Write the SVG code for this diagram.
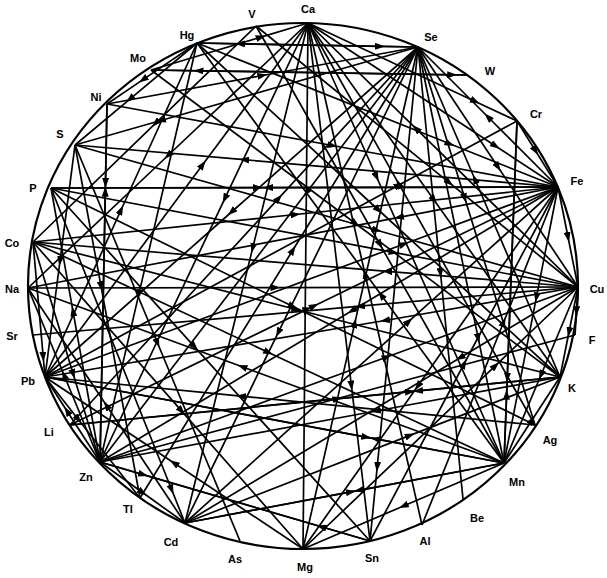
<svg xmlns="http://www.w3.org/2000/svg" width="607" height="578" viewBox="0 0 607 578">
<defs>
<marker id="a" viewBox="0 0 10 7" refX="5" refY="3.5" markerWidth="10" markerHeight="7" markerUnits="userSpaceOnUse" orient="auto"><path d="M0,0 L10,3.5 L0,7 z" fill="#000"/></marker>
<style>
.e path{fill:none;stroke:#000;stroke-width:1.7;marker-mid:url(#a)}
.n text{font-family:"Liberation Sans",Arial,sans-serif;font-size:11px;font-weight:bold;fill:#000;text-anchor:middle}
</style>
</defs>
<rect width="607" height="578" fill="#fff"/>
<ellipse cx="303" cy="286" rx="275" ry="263" fill="none" stroke="#000" stroke-width="2.2"/>
<g id="connectors" class="e">
<path d="M308 23 L305.2 312.3 L303 549"/>
<path d="M308 23 L224.8 198.6 L100 462"/>
<path d="M45 377 L202.8 164.6 L308 23"/>
<path d="M308 23 L252.7 248 L185 523"/>
<path d="M308 23 L351.4 385.6 L370 541"/>
<path d="M422 525 L365 274 L308 23"/>
<path d="M308 23 L376.6 177 L504 463"/>
<path d="M535 425 L398.8 183.8 L308 23"/>
<path d="M308 23 L434 200 L560 377"/>
<path d="M578 287 L416 128.6 L308 23"/>
<path d="M308 23 L495.5 146 L558 187"/>
<path d="M151 70 L260.9 37.1 L308 23"/>
<path d="M308 23 L168 155.5 L28 288"/>
<path d="M197 43 L380 46.3 L418 47"/>
<path d="M418 47 L240 43.8 L197 43"/>
<path d="M418 47 L160.8 120.5 L75 145"/>
<path d="M107 104 L262.5 75.5 L418 47"/>
<path d="M418 47 L231.5 212 L45 377"/>
<path d="M70 425 L278.8 198.2 L418 47"/>
<path d="M418 47 L306.7 192.3 L100 462"/>
<path d="M140 498 L292.9 250 L418 47"/>
<path d="M418 47 L278.2 332.6 L185 523"/>
<path d="M303 549 L354.8 323.1 L418 47"/>
<path d="M418 47 L440.5 273 L463 499"/>
<path d="M418 47 L478.2 338.2 L504 463"/>
<path d="M560 377 L474.8 179 L418 47"/>
<path d="M418 47 L498 167 L578 287"/>
<path d="M558 187 L488 117 L418 47"/>
<path d="M418 47 L464.8 198.2 L535 425"/>
<path d="M418 47 L377.2 466.9 L370 541"/>
<path d="M51 188 L258 187.6 L558 187"/>
<path d="M558 187 L268 187.6 L51 188"/>
<path d="M33 242 L295.5 214.5 L558 187"/>
<path d="M558 187 L399 217.3 L28 288"/>
<path d="M45 377 L404.1 244 L558 187"/>
<path d="M558 187 L351.9 310.8 L100 462"/>
<path d="M185 523 L408.8 321.4 L558 187"/>
<path d="M558 187 L417.8 386.1 L303 549"/>
<path d="M370 541 L464 364 L558 187"/>
<path d="M558 187 L536.4 297.4 L504 463"/>
<path d="M558 187 L568 237 L578 287"/>
<path d="M517 121 L535.5 150.7 L558 187"/>
<path d="M558 187 L244.1 159.7 L75 145"/>
<path d="M197 43 L449.7 143.8 L558 187"/>
<path d="M151 70 L355.5 223.5 L560 377"/>
<path d="M28 288 L275.5 287.6 L578 287"/>
<path d="M578 287 L387.3 271.3 L33 242"/>
<path d="M51 188 L393.6 252.4 L578 287"/>
<path d="M578 287 L385 320.5 L45 377"/>
<path d="M100 462 L386.8 357 L578 287"/>
<path d="M578 287 L460.1 357.8 L185 523"/>
<path d="M303 549 L495.5 365.6 L578 287"/>
<path d="M578 287 L541 375 L504 463"/>
<path d="M578 287 L576.5 311 L575 335"/>
<path d="M578 287 L569 332 L560 377"/>
<path d="M256 26 L449.2 182.6 L578 287"/>
<path d="M578 287 L360 306.2 L33 335"/>
<path d="M75 145 L376.8 230.2 L578 287"/>
<path d="M185 523 L350.9 491.8 L504 463"/>
<path d="M504 463 L358.9 490.3 L185 523"/>
<path d="M504 463 L403.5 506 L303 549"/>
<path d="M45 377 L366.3 437.2 L504 463"/>
<path d="M504 463 L375.5 438.9 L45 377"/>
<path d="M517 121 L507.3 377.5 L504 463"/>
<path d="M504 463 L506.6 394.6 L517 121"/>
<path d="M504 463 L381.2 295 L197 43"/>
<path d="M256 26 L380 244.5 L504 463"/>
<path d="M504 463 L242.2 366.8 L28 288"/>
<path d="M504 463 L532 420 L560 377"/>
<path d="M107 104 L105.5 182.8 L100 462"/>
<path d="M100 462 L105.3 191.7 L107 104"/>
<path d="M100 462 L64 375 L28 288"/>
<path d="M33 242 L73.2 374 L100 462"/>
<path d="M100 462 L73 311.3 L51 188"/>
<path d="M197 43 L138.8 294.4 L100 462"/>
<path d="M100 462 L337.5 398.5 L575 335"/>
<path d="M560 377 L376 411 L100 462"/>
<path d="M100 462 L142.5 492.5 L185 523"/>
<path d="M100 462 L143.2 474.6 L370 541"/>
<path d="M370 541 L321.4 526.8 L100 462"/>
<path d="M45 377 L78.3 419.4 L140 498"/>
<path d="M100 462 L67 411 L45 377"/>
<path d="M33 242 L43.2 356.8 L45 377"/>
<path d="M75 145 L60 261 L45 377"/>
<path d="M70 425 L410 391.7 L560 377"/>
<path d="M560 377 L418 390.9 L70 425"/>
<path d="M535 425 L241 396.2 L45 377"/>
<path d="M45 377 L121 210 L197 43"/>
<path d="M51 188 L171.6 489.5 L185 523"/>
<path d="M185 523 L410 435.4 L560 377"/>
<path d="M185 523 L106.5 405.5 L28 288"/>
<path d="M33 242 L181.5 410.9 L303 549"/>
<path d="M303 549 L174 463 L45 377"/>
<path d="M197 43 L378.5 210 L560 377"/>
<path d="M197 43 L143 79.6 L107 104"/>
<path d="M197 43 L129.9 99.1 L75 145"/>
<path d="M256 26 L155.7 123.2 L33 242"/>
<path d="M151 70 L452.2 74.8 L468 75"/>
<path d="M468 75 L198.5 70.8 L151 70"/>
<path d="M107 104 L332.5 145.5 L558 187"/>
<path d="M75 145 L157.5 343 L240 541"/>
<path d="M75 145 L101 286.2 L140 498"/>
<path d="M51 188 L293 306.5 L535 425"/>
<path d="M51 188 L194.6 346.9 L370 541"/>
<path d="M33 242 L296.5 309.5 L560 377"/>
<path d="M33 242 L268.5 352.5 L504 463"/>
<path d="M70 425 L314 306 L558 187"/>
<path d="M422 525 L503.6 322.2 L558 187"/>
<path d="M308 23 L475.2 101.4 L517 121"/>
<path d="M45 377 L399 185 L517 121"/>
</g>
<g id="node-Ca" class="n"><text x="308" y="13">Ca</text></g>
<g id="node-V" class="n"><text x="252" y="18">V</text></g>
<g id="node-Hg" class="n"><text x="187" y="39">Hg</text></g>
<g id="node-Mo" class="n"><text x="138" y="62">Mo</text></g>
<g id="node-Ni" class="n"><text x="96" y="101">Ni</text></g>
<g id="node-S" class="n"><text x="60" y="138">S</text></g>
<g id="node-P" class="n"><text x="33" y="192">P</text></g>
<g id="node-Co" class="n"><text x="12" y="247">Co</text></g>
<g id="node-Na" class="n"><text x="12" y="293">Na</text></g>
<g id="node-Sr" class="n"><text x="12" y="340">Sr</text></g>
<g id="node-Pb" class="n"><text x="28" y="385">Pb</text></g>
<g id="node-Li" class="n"><text x="49" y="436">Li</text></g>
<g id="node-Zn" class="n"><text x="86" y="481">Zn</text></g>
<g id="node-Tl" class="n"><text x="128" y="513">Tl</text></g>
<g id="node-Cd" class="n"><text x="171" y="546">Cd</text></g>
<g id="node-As" class="n"><text x="235" y="563">As</text></g>
<g id="node-Mg" class="n"><text x="305" y="571">Mg</text></g>
<g id="node-Sn" class="n"><text x="372" y="562">Sn</text></g>
<g id="node-Al" class="n"><text x="425" y="545">Al</text></g>
<g id="node-Be" class="n"><text x="477" y="522">Be</text></g>
<g id="node-Mn" class="n"><text x="517" y="486">Mn</text></g>
<g id="node-Ag" class="n"><text x="550" y="444">Ag</text></g>
<g id="node-K" class="n"><text x="572" y="392">K</text></g>
<g id="node-F" class="n"><text x="592" y="344">F</text></g>
<g id="node-Cu" class="n"><text x="597" y="293">Cu</text></g>
<g id="node-Fe" class="n"><text x="577" y="185">Fe</text></g>
<g id="node-Cr" class="n"><text x="536" y="118">Cr</text></g>
<g id="node-W" class="n"><text x="490" y="75">W</text></g>
<g id="node-Se" class="n"><text x="431" y="41">Se</text></g>
</svg>
